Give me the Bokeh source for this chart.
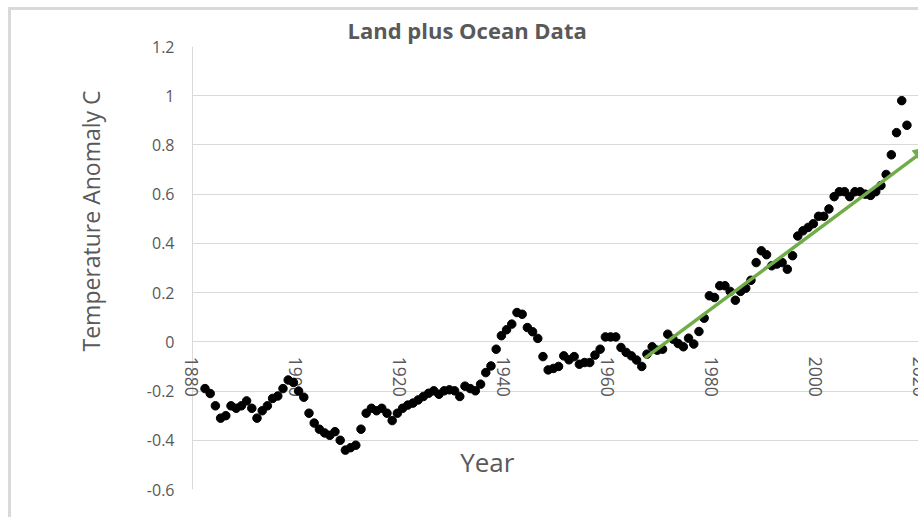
import math
from bokeh.plotting import figure
from bokeh.models import (FixedTicker, Range1d, Label, Arrow, NormalHead, Span,
                          BoxAnnotation, NumeralTickFormatter, Title)
from bokeh.core.properties import value
from bokeh.embed import file_html
from bokeh.resources import INLINE

# ---- data ----
years = list(range(1882, 2018))
anomaly = [
    -0.19, -0.21, -0.26, -0.31, -0.30, -0.26, -0.27, -0.26, -0.24, -0.27,   # 1882-1891
    -0.31, -0.28, -0.26, -0.23, -0.22, -0.19, -0.155, -0.165, -0.20, -0.225,  # 1892-1901
    -0.29, -0.33, -0.355, -0.37, -0.38, -0.365, -0.40, -0.44, -0.43, -0.42,  # 1902-1911
    -0.355, -0.29, -0.27, -0.28, -0.27, -0.29, -0.32, -0.29, -0.27, -0.257,  # 1912-1921
    -0.249, -0.236, -0.222, -0.209, -0.199, -0.213, -0.199, -0.195, -0.199, -0.222,  # 1922-1931
    -0.18, -0.19, -0.199, -0.172, -0.125, -0.098, -0.03, 0.025, 0.049, 0.072,  # 1932-1941
    0.119, 0.112, 0.058, 0.041, 0.014, -0.06, -0.114, -0.108, -0.10, -0.057,  # 1942-1951
    -0.073, -0.06, -0.091, -0.084, -0.084, -0.054, -0.03, 0.02, 0.02, 0.02,  # 1952-1961
    -0.023, -0.043, -0.057, -0.074, -0.10, -0.05, -0.02, -0.034, -0.03, 0.031,  # 1962-1971
    0.011, -0.007, -0.02, 0.015, -0.009, 0.042, 0.096, 0.187, 0.18, 0.228,  # 1972-1981
    0.228, 0.205, 0.169, 0.205, 0.218, 0.25, 0.322, 0.37, 0.354, 0.309,  # 1982-1991
    0.316, 0.322, 0.295, 0.35, 0.43, 0.451, 0.465, 0.48, 0.51, 0.51,  # 1992-2001
    0.54, 0.59, 0.61, 0.61, 0.59, 0.61, 0.61, 0.60, 0.595, 0.61,  # 2002-2011
    0.635, 0.68, 0.76, 0.85, 0.98, 0.88,  # 2012-2017
]
x_tick_years = [1880, 1900, 1920, 1940, 1960, 1980, 2000, 2020]
x_tick_labels = [str(y) for y in x_tick_years]
y_ticks = [-0.6, -0.4, -0.2, 0.0, 0.2, 0.4, 0.6, 0.8, 1.0, 1.2]
axis_start_year = 1879.6          # where the vertical value axis stands
trend_years = [1966.6, 2021.0]
trend_values = [-0.066, 0.788]

FONT = "Open Sans"
GRAY = "#595959"
GRID = "#d9d9d9"
GREEN = "#70ad47"

p = figure(width=910, height=510, output_backend="svg", toolbar_location=None,
           x_range=Range1d(1877.48, 2019.8), y_range=Range1d(-0.6, 1.2),
           min_border_left=170, min_border_right=0, min_border_top=36,
           min_border_bottom=31)
p.styles = {"margin-left": "8px", "margin-top": "7px",
            "border-top": "3px solid #d9d9d9", "border-left": "3px solid #d9d9d9"}
p.outline_line_color = None
p.background_fill_color = "white"
p.border_fill_color = "white"

# title
p.title.text = "Land plus Ocean Data"
p.title.text_font = FONT
p.title.text_font_style = "bold"
p.title.text_font_size = "22px"
p.title.text_color = GRAY
p.title.align = "left"
p.title.offset = 166
p.title.standoff = 3

# axes
p.xaxis.visible = False
p.xgrid.visible = False
p.yaxis.ticker = FixedTicker(ticks=y_ticks)
p.yaxis.formatter = NumeralTickFormatter(format="0.[0]")
p.yaxis.axis_line_color = None
p.yaxis.major_tick_line_color = None
p.yaxis.minor_tick_line_color = None
p.yaxis.major_tick_out = 0
p.yaxis.major_tick_in = 0
p.yaxis.minor_tick_out = 0
p.yaxis.major_label_standoff = 7
p.yaxis.major_label_text_font = FONT
p.yaxis.major_label_text_font_size = "16px"
p.yaxis.major_label_text_color = GRAY
p.ygrid.grid_line_color = GRID
p.ygrid.grid_line_width = 1

# y axis title, placed as in the reference (above the vertical centre)
p.add_layout(Title(text="Temperature Anomaly C", align="right", offset=44,
                   standoff=74, text_font=FONT, text_font_style="normal",
                   text_font_size="23px", text_color=GRAY), "left")

# hide grid stubs left of the value axis, then draw the axis line
p.add_layout(BoxAnnotation(right=axis_start_year, fill_color="white", fill_alpha=1,
                           line_alpha=0, level="underlay"))
p.add_layout(Span(location=axis_start_year, dimension="height",
                  line_color=GRID, line_width=1, level="underlay"))

# x tick labels crossing at y = 0 (rotated)
p.text(x=x_tick_years, y=[0] * len(x_tick_years), text=x_tick_labels,
       angle=-math.pi / 2, text_align="left", text_baseline="middle",
       x_offset=-3.5, y_offset=15, text_font=value(FONT),
       text_font_size="17.5px", text_color=GRAY)

# data points
p.scatter(years, anomaly, size=8.5, fill_color="black", line_color="black")

# trend arrow
p.add_layout(Arrow(end=NormalHead(size=14, fill_color=GREEN, line_color=GREEN),
                   x_start=trend_years[0], y_start=trend_values[0],
                   x_end=trend_years[1], y_end=trend_values[1],
                   line_color=GREEN, line_width=3.5))

# axis title inside the plot
p.add_layout(Label(x=1936.3, y=-0.49, text="Year", text_align="center",
                   text_baseline="middle", text_font=FONT,
                   text_font_size="26px", text_color=GRAY))

open("out.html", "w").write(file_html(p, INLINE))
